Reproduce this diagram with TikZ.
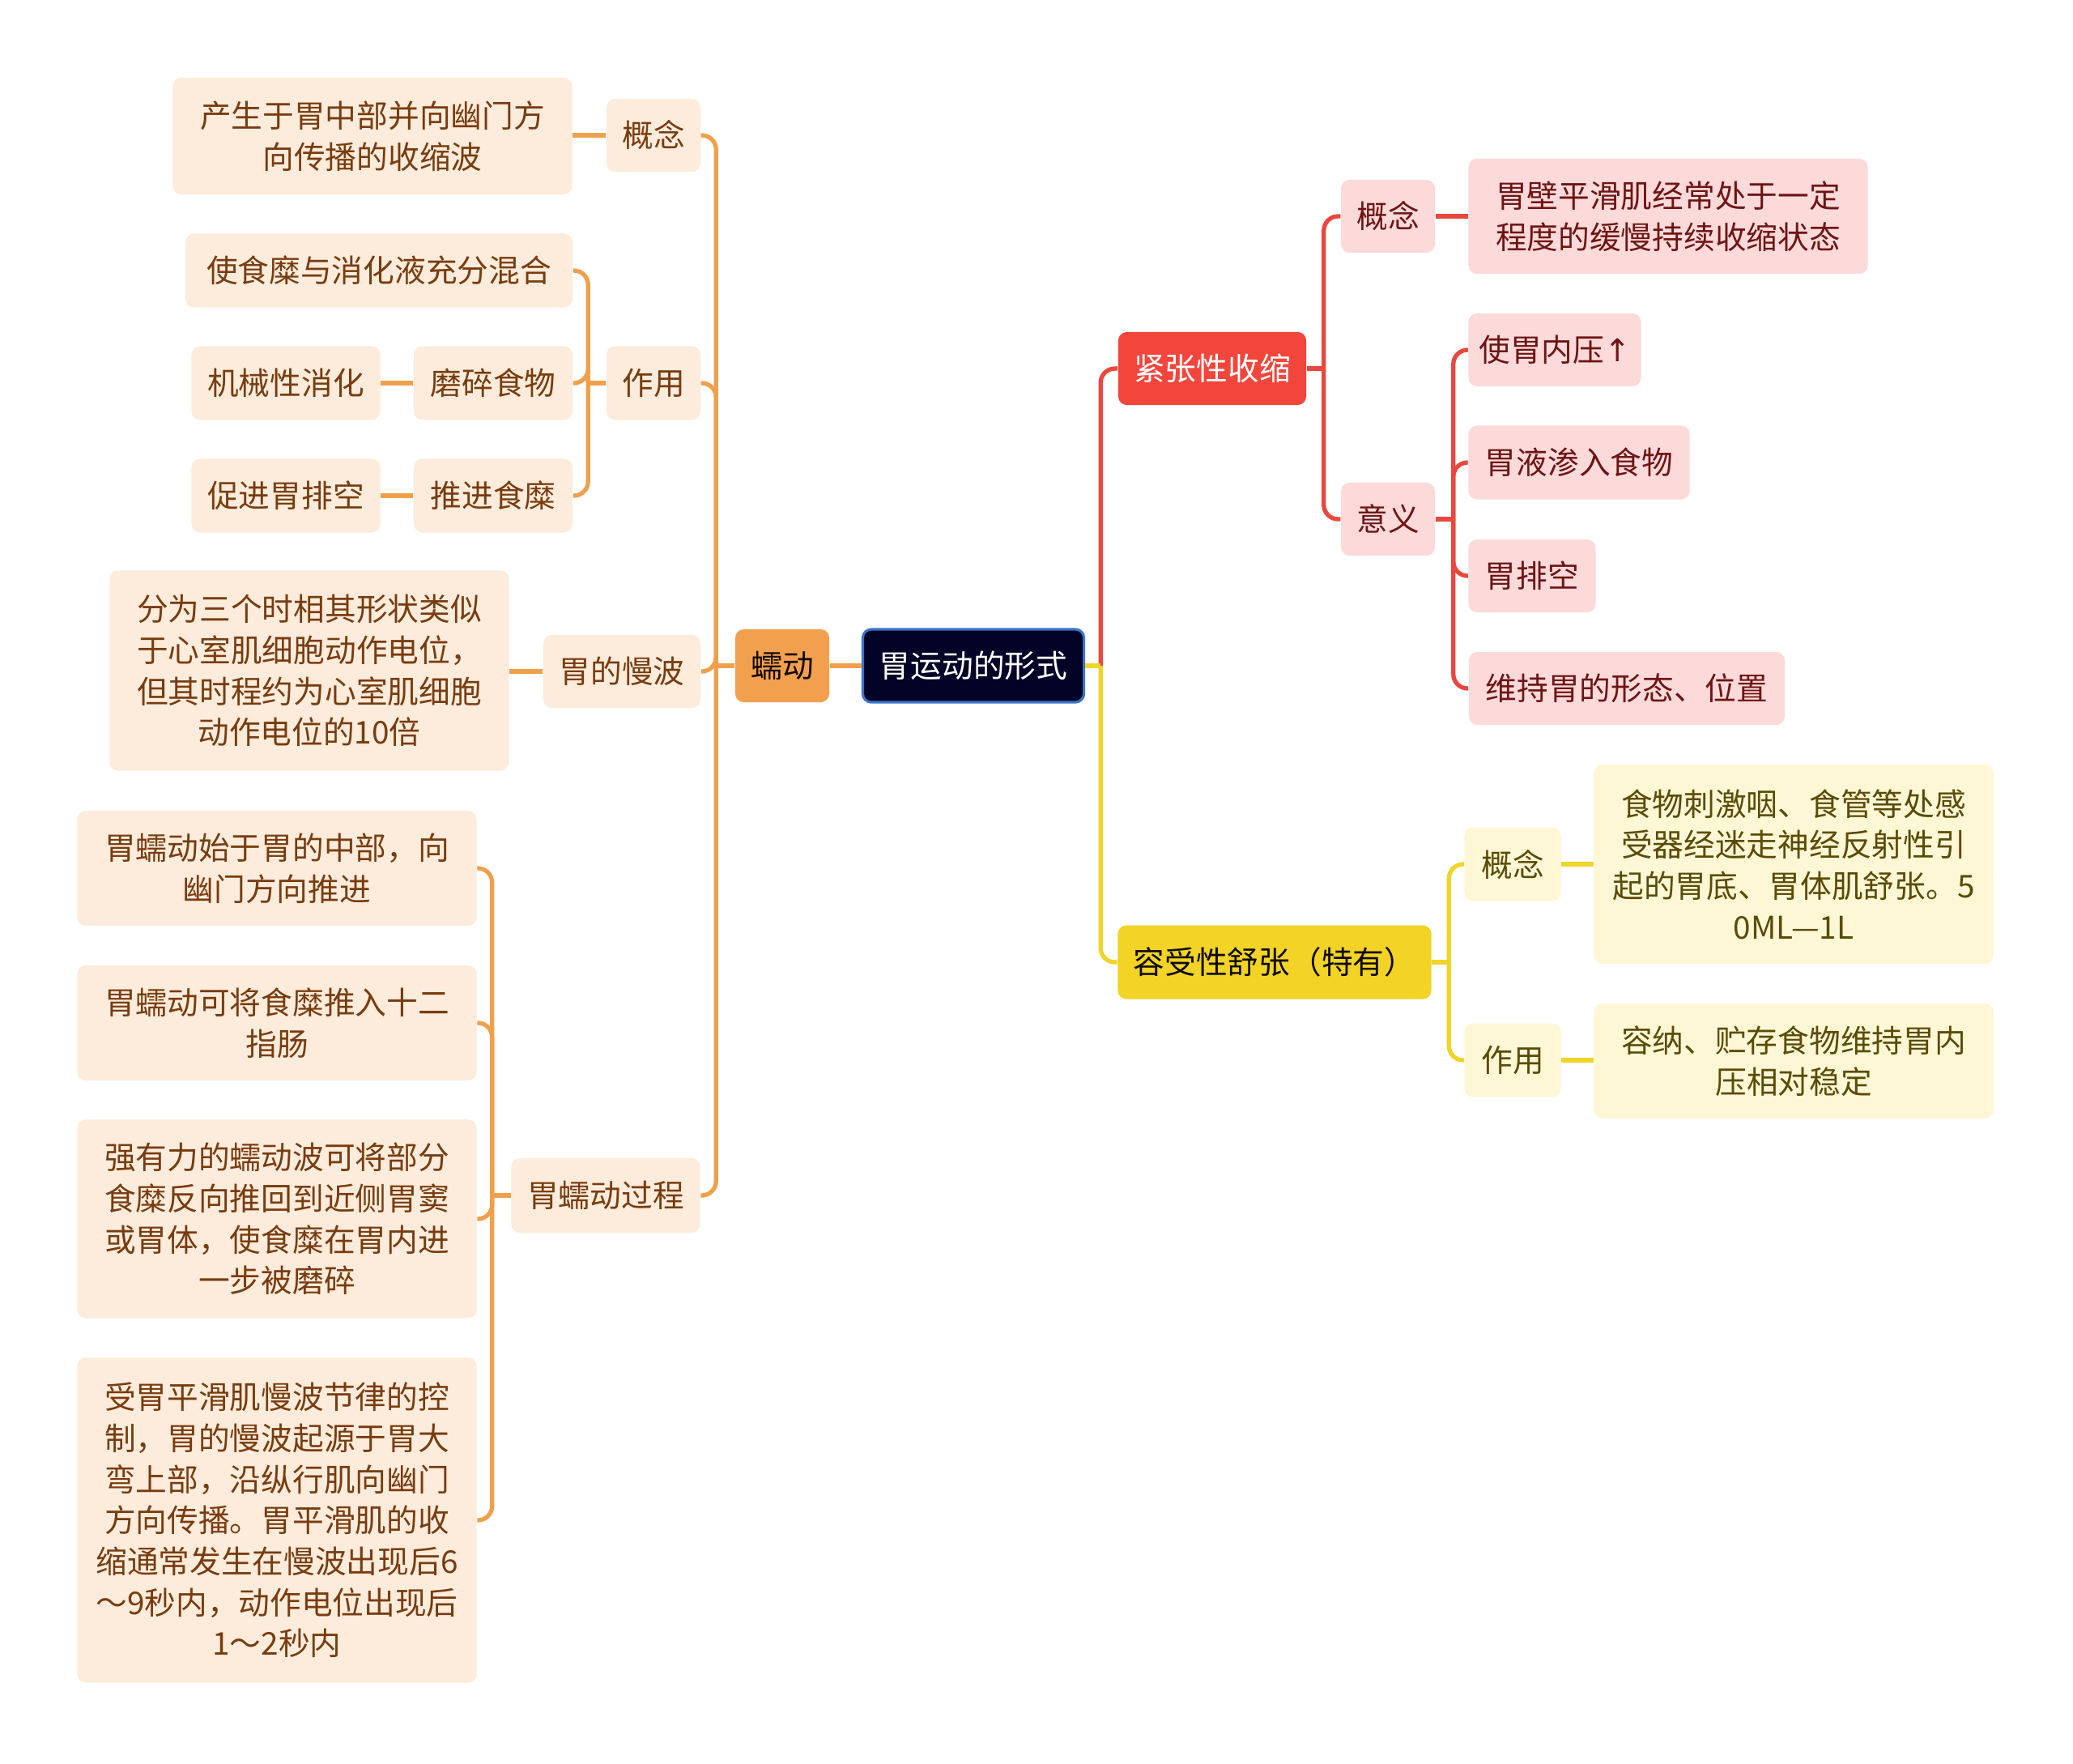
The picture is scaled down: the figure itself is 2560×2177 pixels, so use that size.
\documentclass[tikz,border=0pt]{standalone}
\usepackage{fontspec}
\newfontfamily\cjk{Noto Sans CJK SC}
\newfontfamily\arrowfont{DejaVu Sans}
\definecolor{rootnavy}{RGB}{2, 3, 38}
\definecolor{rootblue}{RGB}{60, 115, 200}
\definecolor{orgline}{RGB}{240, 160, 75}
\definecolor{orgmain}{RGB}{243, 160, 78}
\definecolor{orglight}{RGB}{253, 236, 220}
\definecolor{orgtext}{RGB}{120, 60, 15}
\definecolor{redline}{RGB}{232, 72, 62}
\definecolor{redmain}{RGB}{242, 70, 60}
\definecolor{redlight}{RGB}{253, 218, 218}
\definecolor{redtext}{RGB}{110, 20, 20}
\definecolor{ylwline}{RGB}{240, 212, 40}
\definecolor{ylwmain}{RGB}{242, 211, 38}
\definecolor{ylwlight}{RGB}{253, 247, 214}
\definecolor{ylwtext}{RGB}{90, 75, 5}

\begin{document}
\begin{tikzpicture}[x=0.01cm, y=-0.01cm,
  topic/.style={rounded corners=3pt, align=center, inner sep=0pt, font=\cjk\fontsize{11}{14.4}\selectfont},
  rootbox/.style={topic, fill=rootnavy, draw=rootblue, line width=0.9pt, text=white},
  obox/.style={topic, fill=orgmain, text=black!85!orgtext},
  oleaf/.style={topic, fill=orglight, text=orgtext},
  rbox/.style={topic, fill=redmain, text=white},
  rleaf/.style={topic, fill=redlight, text=redtext},
  ybox/.style={topic, fill=ylwmain, text=black!85!ylwtext},
  yleaf/.style={topic, fill=ylwlight, text=ylwtext},
  oline/.style={draw=orgline, line width=1.5pt, rounded corners=5pt},
  rline/.style={draw=redline, line width=1.5pt, rounded corners=5pt},
  yline/.style={draw=ylwline, line width=1.5pt, rounded corners=5pt}
]
  \useasboundingbox[fill=white] (0,0) rectangle (2560,2177);

  \node[rootbox, minimum width=2.73cm, minimum height=0.90cm] (root) at (1202, 822) {胃运动的形式};

  \node[obox, minimum width=1.16cm, minimum height=0.90cm] (rudong) at (966, 822) {蠕动};
  \node[oleaf, minimum width=1.16cm, minimum height=0.90cm] (lgainian) at (807, 167) {概念};
  \node[oleaf, minimum width=1.16cm, minimum height=0.91cm] (lzuoyong) at (807, 473) {作用};
  \node[oleaf, minimum width=1.94cm, minimum height=0.90cm] (manbo) at (768, 829) {胃的慢波};
  \node[oleaf, minimum width=2.33cm, minimum height=0.92cm] (guocheng) at (748, 1476) {胃蠕动过程};

  \node[oleaf, minimum width=4.93cm, minimum height=1.44cm] (chansheng) at (460, 168) {产生于胃中部并向幽门方\\向传播的收缩波};
  \node[oleaf, minimum width=4.78cm, minimum height=0.91cm] (hunhe) at (468, 334) {使食糜与消化液充分混合};
  \node[oleaf, minimum width=1.96cm, minimum height=0.91cm] (mosui) at (609, 473) {磨碎食物};
  \node[oleaf, minimum width=1.96cm, minimum height=0.91cm] (tuijin) at (609, 612) {推进食糜};
  \node[oleaf, minimum width=2.33cm, minimum height=0.91cm] (jixie) at (353, 473) {机械性消化};
  \node[oleaf, minimum width=2.33cm, minimum height=0.91cm] (paikong) at (353, 612) {促进胃排空};
  \node[oleaf, minimum width=4.93cm, minimum height=2.47cm] (shixiang) at (382, 828) {分为三个时相其形状类似\\于心室肌细胞动作电位，\\但其时程约为心室肌细胞\\动作电位的10倍};
  \node[oleaf, minimum width=4.93cm, minimum height=1.42cm] (shiyu) at (342, 1072) {胃蠕动始于胃的中部，向\\幽门方向推进};
  \node[oleaf, minimum width=4.93cm, minimum height=1.42cm] (tuiru) at (342, 1263) {胃蠕动可将食糜推入十二\\指肠};
  \node[oleaf, minimum width=4.93cm, minimum height=2.45cm] (fanxiang) at (342, 1505) {强有力的蠕动波可将部分\\食糜反向推回到近侧胃窦\\或胃体，使食糜在胃内进\\一步被磨碎};
  \node[oleaf, minimum width=4.93cm, minimum height=4.01cm] (jielv) at (342, 1877) {受胃平滑肌慢波节律的控\\制，胃的慢波起源于胃大\\弯上部，沿纵行肌向幽门\\方向传播。胃平滑肌的收\\缩通常发生在慢波出现后6\\～9秒内，动作电位出现后\\1～2秒内};

  \node[rbox, minimum width=2.32cm, minimum height=0.90cm] (jinzhang) at (1497, 455) {紧张性收缩};
  \node[rleaf, minimum width=1.16cm, minimum height=0.90cm] (rgainian) at (1714, 267) {概念};
  \node[rleaf, minimum width=1.16cm, minimum height=0.90cm] (yiyi) at (1714, 641) {意义};
  \node[rleaf, minimum width=4.93cm, minimum height=1.42cm] (weibi) at (2060, 267) {胃壁平滑肌经常处于一定\\程度的缓慢持续收缩状态};
  \node[rleaf, minimum width=2.13cm, minimum height=0.90cm] (neiya) at (1920, 432) {使胃内压{\arrowfont ↑}};
  \node[rleaf, minimum width=2.73cm, minimum height=0.91cm] (shenru) at (1950, 571) {胃液渗入食物};
  \node[rleaf, minimum width=1.57cm, minimum height=0.90cm] (rpaikong) at (1892, 711) {胃排空};
  \node[rleaf, minimum width=3.90cm, minimum height=0.90cm] (xingtai) at (2009, 850) {维持胃的形态、位置};

  \node[ybox, minimum width=3.87cm, minimum height=0.91cm] (rongshou) at (1574, 1188) {容受性舒张（特有）};
  \node[yleaf, minimum width=1.19cm, minimum height=0.91cm] (ygainian) at (1868, 1067) {概念};
  \node[yleaf, minimum width=1.19cm, minimum height=0.91cm] (yzuoyong) at (1868, 1309) {作用};
  \node[yleaf, minimum width=4.93cm, minimum height=2.46cm] (ciji) at (2215, 1067) {食物刺激咽、食管等处感\\受器经迷走神经反射性引\\起的胃底、胃体肌舒张。5\\0ML—1L};
  \node[yleaf, minimum width=4.93cm, minimum height=1.42cm] (rongna) at (2215, 1310) {容纳、贮存食物维持胃内\\压相对稳定};

  \coordinate (rudongj) at ([xshift=-0.23cm]rudong.west);
  \coordinate (lzuoyongj) at ([xshift=-0.22cm]lzuoyong.west);
  \coordinate (guochengj) at ([xshift=-0.23cm]guocheng.west);
  \coordinate (rootj) at ([xshift=0.19cm]root.east);
  \coordinate (jinzhangj) at ([xshift=0.21cm]jinzhang.east);
  \coordinate (yiyij) at ([xshift=0.22cm]yiyi.east);
  \coordinate (rongshouj) at ([xshift=0.21cm]rongshou.east);

  \draw[oline] (root.west) -- (rudong.east);
  \draw[oline] (rudong.west) -- (rudongj);
  \draw[oline] (rudongj) |- (lgainian.east);
  \draw[oline] (rudongj) |- (lzuoyong.east);
  \draw[oline] (rudongj) |- (manbo.east);
  \draw[oline] (rudongj) |- (guocheng.east);
  \draw[oline] (lgainian.west) -- (lgainian.west -| chansheng.east);
  \draw[oline] (lzuoyong.west) -- (lzuoyongj);
  \draw[oline] (lzuoyongj) |- (hunhe.east);
  \draw[oline] (lzuoyongj) |- (mosui.east);
  \draw[oline] (lzuoyongj) |- (tuijin.east);
  \draw[oline] (mosui.west) -- (jixie.east);
  \draw[oline] (tuijin.west) -- (paikong.east);
  \draw[oline] (manbo.west) -- (manbo.west -| shixiang.east);
  \draw[oline] (guocheng.west) -- (guochengj);
  \draw[oline] (guochengj) |- (shiyu.east);
  \draw[oline] (guochengj) |- (tuiru.east);
  \draw[oline] (guochengj) |- (fanxiang.east);
  \draw[oline] (guochengj) |- (jielv.east);

  \draw[rline] (rootj) |- (jinzhang.west);
  \draw[yline] (rootj) |- (rongshou.west);
  \draw[yline] (root.east) -- (rootj);

  \draw[rline] (jinzhang.east) -- (jinzhangj);
  \draw[rline] (jinzhangj) |- (rgainian.west);
  \draw[rline] (jinzhangj) |- (yiyi.west);
  \draw[rline] (rgainian.east) -- (rgainian.east -| weibi.west);
  \draw[rline] (yiyi.east) -- (yiyij);
  \draw[rline] (yiyij) |- (neiya.west);
  \draw[rline] (yiyij) |- (shenru.west);
  \draw[rline] (yiyij) |- (rpaikong.west);
  \draw[rline] (yiyij) |- (xingtai.west);

  \draw[yline] (rongshou.east) -- (rongshouj);
  \draw[yline] (rongshouj) |- (ygainian.west);
  \draw[yline] (rongshouj) |- (yzuoyong.west);
  \draw[yline] (ygainian.east) -- (ygainian.east -| ciji.west);
  \draw[yline] (yzuoyong.east) -- (yzuoyong.east -| rongna.west);
\end{tikzpicture}
\end{document}
